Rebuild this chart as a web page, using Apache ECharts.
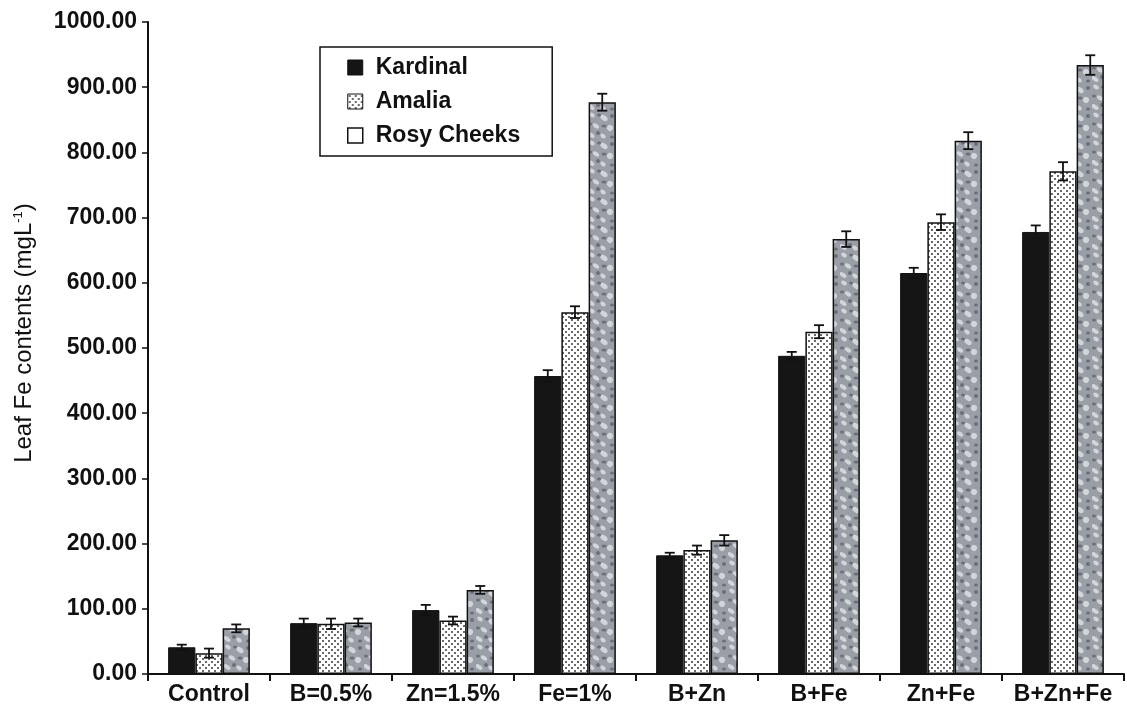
<!DOCTYPE html>
<html>
<head>
<meta charset="utf-8">
<script src="https://cdn.jsdelivr.net/npm/echarts@6/dist/echarts.min.js"></script>
<style>
  html, body { margin: 0; padding: 0; background: #fff; }
  #chart { width: 1127px; height: 719px; }
</style>
</head>
<body>
<div id="chart"></div>
<script>
// data
const categories = ["Control", "B=0.5%", "Zn=1.5%", "Fe=1%", "B+Zn", "B+Fe", "Zn+Fe", "B+Zn+Fe"];
const kardinal = [41, 78, 98, 457, 182, 488, 615, 678];
const amalia = [32, 77, 82, 555, 190, 525, 693, 771];
const rosyCheeks = [70, 79, 129, 877, 205, 667, 818, 934];
const kardinalErr = [4, 7, 8, 9, 4, 6, 8, 10];
const amaliaErr = [7, 8, 6, 9, 7, 10, 12, 14];
const rosyErr = [6, 6, 6, 13, 8, 12, 13, 15];
const yTicks = [0, 100, 200, 300, 400, 500, 600, 700, 800, 900, 1000];

const FONT = "'Liberation Sans', Arial, sans-serif";
const GAP = 0.33;

// dotted fill (Amalia)
function dotPattern() {
  const c = document.createElement("canvas");
  c.width = 6; c.height = 6;
  const g = c.getContext("2d");
  g.fillStyle = "#ffffff";
  g.fillRect(0, 0, 6, 6);
  g.fillStyle = "#6a6a6a";
  g.fillRect(1, 1, 2, 2);
  g.fillRect(4, 4, 2, 2);
  return c;
}

// mottled grey fill (Rosy Cheeks), fixed blotches
function mottlePattern() {
  const c = document.createElement("canvas");
  c.width = 28; c.height = 28;
  const g = c.getContext("2d");
  g.fillStyle = "#9a9ea7";
  g.fillRect(0, 0, 28, 28);
  g.fillStyle = "#d2d5da";
  const light = [[4, 3, 3, 2], [16, 6, 4, 2.5], [8, 14, 3.5, 2], [22, 16, 3, 3], [3, 23, 4, 2], [15, 24, 3, 2]];
  light.forEach(function (e) {
    g.beginPath(); g.ellipse(e[0], e[1], e[2], e[3], 0.6, 0, Math.PI * 2); g.fill();
  });
  g.fillStyle = "#6c7079";
  const dark = [[11, 3, 2, 1.5], [24, 4, 2, 2], [2, 12, 2, 1.5], [16, 14, 2.5, 1.5], [10, 21, 2, 2], [24, 25, 2, 1.5]];
  dark.forEach(function (e) {
    g.beginPath(); g.ellipse(e[0], e[1], e[2], e[3], 0, 0, Math.PI * 2); g.fill();
  });
  return c;
}

const dotFill = { image: dotPattern(), repeat: "repeat" };
const mottleFill = { image: mottlePattern(), repeat: "repeat" };

const chart = echarts.init(document.getElementById("chart"));

function errorSeries(name, values, errs, idx) {
  return {
    name: name,
    type: "custom",
    z: 5,
    data: values.map(function (v, i) { return [i, v, errs[i]]; }),
    renderItem: function (params, api) {
      const catW = api.size([1, 0])[0];
      const barW = catW * (1 - GAP) / 3;
      const c = api.coord([api.value(0), api.value(1)]);
      const x = c[0] + (idx - 1) * barW;
      const top = api.coord([api.value(0), api.value(1) + api.value(2)])[1];
      const bot = api.coord([api.value(0), api.value(1) - api.value(2)])[1];
      const cap = 5;
      const style = { stroke: "#111", lineWidth: 1.8, fill: null };
      return {
        type: "group",
        children: [
          { type: "line", shape: { x1: x, y1: top, x2: x, y2: bot }, style: style },
          { type: "line", shape: { x1: x - cap, y1: top, x2: x + cap, y2: top }, style: style },
          { type: "line", shape: { x1: x - cap, y1: bot, x2: x + cap, y2: bot }, style: style }
        ]
      };
    }
  };
}

const option = {
  animation: false,
  backgroundColor: "#fff",
  grid: { left: 148, right: 3, top: 22, bottom: 45, containLabel: false },
  legend: {
    orient: "vertical",
    left: 320,
    top: 47,
    padding: [9, 32, 9, 27],
    itemGap: 11,
    itemWidth: 15,
    itemHeight: 15,
    borderColor: "#111",
    borderWidth: 1.5,
    textStyle: { fontFamily: FONT, fontWeight: "bold", fontSize: 23, color: "#111", padding: [0, 0, 0, 8] },
    data: [
      { name: "Kardinal", icon: "rect", itemStyle: { color: "#151515", borderColor: "#111", borderWidth: 1 } },
      { name: "Amalia", icon: "rect", itemStyle: { color: dotFill, borderColor: "#111", borderWidth: 1 } },
      { name: "Rosy Cheeks", icon: "rect", itemStyle: { color: "#ffffff", borderColor: "#111", borderWidth: 1.5 } }
    ]
  },
  xAxis: {
    type: "category",
    data: categories,
    axisLine: { lineStyle: { color: "#111", width: 2 } },
    axisTick: { show: true, interval: 0, length: 7, alignWithLabel: false, lineStyle: { color: "#111", width: 2 } },
    axisLabel: { interval: 0, fontFamily: FONT, fontWeight: "bold", fontSize: 23, color: "#111", margin: 9 }
  },
  yAxis: {
    type: "value",
    min: yTicks[0],
    max: yTicks[yTicks.length - 1],
    interval: 100,
    splitLine: { show: false },
    axisLine: { show: true, lineStyle: { color: "#111", width: 2 } },
    axisTick: { show: true, length: 6, lineStyle: { color: "#111", width: 1.5 } },
    axisLabel: {
      fontFamily: FONT, fontWeight: "bold", fontSize: 23, color: "#111", margin: 11,
      formatter: function (v) { return v.toFixed(2); }
    },
    name: "{n|Leaf Fe contents (mgL}{s|-1}{n|)}",
    nameLocation: "middle",
    nameGap: 111,
    nameRotate: 90,
    nameTextStyle: {
      padding: [0, 0, 0, 30],
      rich: {
        n: { fontFamily: FONT, fontSize: 24, color: "#111" },
        s: { fontFamily: FONT, fontSize: 13, color: "#111", verticalAlign: "top", padding: [0, 0, 12, 0] }
      }
    }
  },
  series: [
    {
      name: "Kardinal", type: "bar", data: kardinal, barGap: "0%", barCategoryGap: (GAP * 100) + "%",
      itemStyle: { color: "#151515", borderColor: "#111", borderWidth: 1 }
    },
    {
      name: "Amalia", type: "bar", data: amalia,
      itemStyle: { color: dotFill, borderColor: "#111", borderWidth: 1.5 }
    },
    {
      name: "Rosy Cheeks", type: "bar", data: rosyCheeks,
      itemStyle: { color: mottleFill, borderColor: "#111", borderWidth: 1.5 }
    },
    errorSeries("Kardinal err", kardinal, kardinalErr, 0),
    errorSeries("Amalia err", amalia, amaliaErr, 1),
    errorSeries("Rosy err", rosyCheeks, rosyErr, 2)
  ]
};

chart.setOption(option);
</script>
</body>
</html>
